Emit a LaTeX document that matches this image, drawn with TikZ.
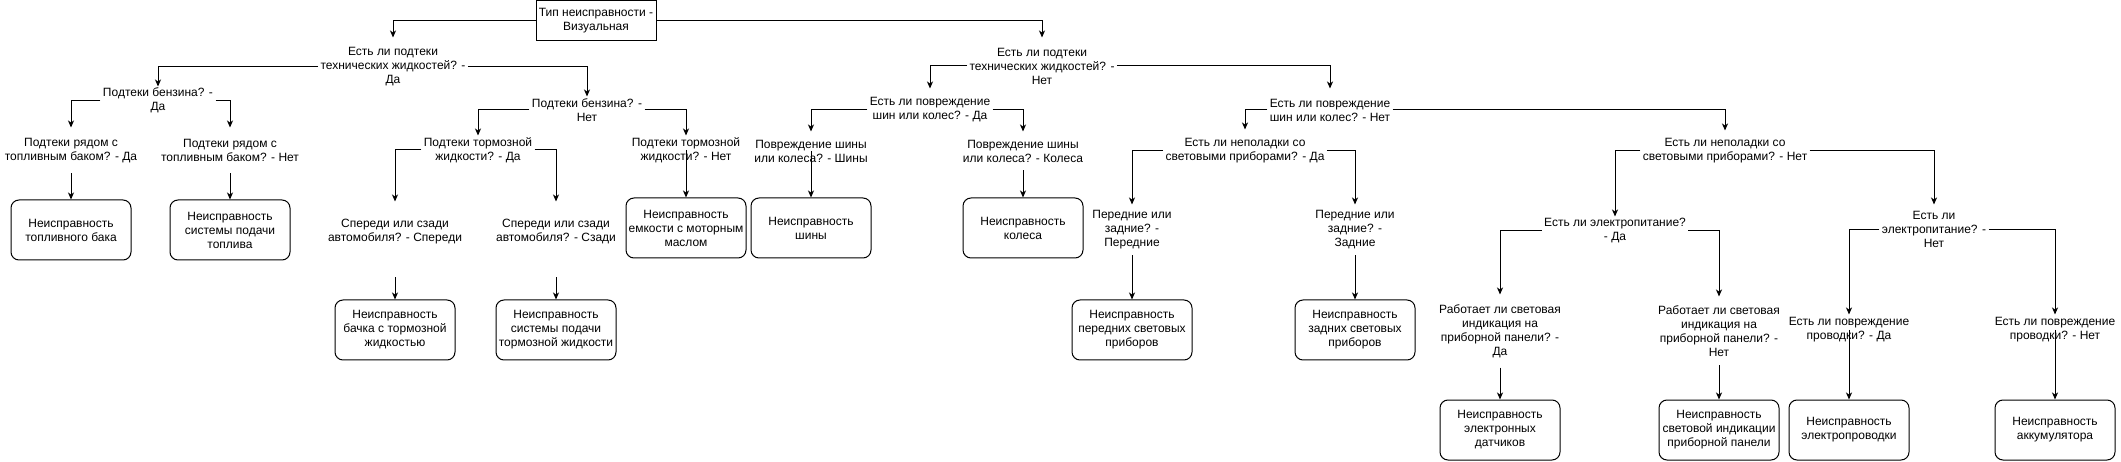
\documentclass[tikz,border=0pt]{standalone}
\usepackage{fontspec}
\setmainfont{Liberation Sans}
\usetikzlibrary{arrows.meta}

\tikzset{
  every node/.style={font=\fontsize{12}{14}\selectfont, align=center},
  question/.style={inner xsep=2pt, inner ysep=0pt},
  fault/.style={draw, rounded corners=8pt, minimum width=120pt, minimum height=60pt, inner sep=1pt},
  rootbox/.style={draw, minimum width=120pt, minimum height=40pt, inner sep=1pt},
  link/.style={-{Stealth[length=7pt,width=6pt,inset=2pt]}},
}

\begin{document}
\begin{tikzpicture}[x=1pt, y=-1pt, line width=1pt]
			\useasboundingbox (0,0) rectangle (2121,462);
			
			% Root
			\node[rootbox] (R) at (596,21) {Тип неисправности -\\Визуальная};
			
			% Questions, left half
			\node[question, minimum height=58pt] (q1) at (393,67) {Есть ли подтеки\\технических жидкостей? -\\Да};
			\node[question, minimum height=27pt] (q2) at (158,100.5) {Подтеки бензина? -\\Да};
			\node[question, minimum height=26pt] (q3) at (587,110) {Подтеки бензина? -\\Нет};
			\node[question, minimum height=45pt] (q4) at (71,150.5) {Подтеки рядом с\\топливным баком? - Да};
			\node[question, minimum height=45pt] (q5) at (230,150.5) {Подтеки рядом с\\топливным баком? - Нет};
			\node[question, minimum height=28pt] (q6) at (478,150) {Подтеки тормозной\\жидкости? - Да};
			\node[question, minimum height=28pt] (q7) at (686,150) {Подтеки тормозной\\жидкости? - Нет};
			\node[question, minimum height=60pt] (q8) at (395,232) {Спереди или сзади\\автомобиля? - Спереди};
			\node[question, minimum height=60pt] (q9) at (556,232) {Спереди или сзади\\автомобиля? - Сзади};
			
			% Questions, right half
			\node[question, minimum height=56pt] (q10) at (1042,66) {Есть ли подтеки\\технических жидкостей? -\\Нет};
			\node[question, minimum height=42pt] (q11) at (930,110) {Есть ли повреждение\\шин или колес? - Да};
			\node[question, minimum height=42pt] (q12) at (1330,110) {Есть ли повреждение\\шин или колес? - Нет};
			\node[question, minimum height=38pt] (q13) at (811,151) {Повреждение шины\\или колеса? - Шины};
			\node[question, minimum height=38pt] (q14) at (1023,151) {Повреждение шины\\или колеса? - Колеса};
			\node[question, minimum height=41pt] (q15) at (1245,150.5) {Есть ли неполадки со\\световыми приборами? - Да};
			\node[question, minimum height=39pt] (q16) at (1725,150.5) {Есть ли неполадки со\\световыми приборами? - Нет};
			\node[question, minimum height=50pt] (q17) at (1132,230) {Передние или\\задние? -\\Передние};
			\node[question, minimum height=50pt] (q18) at (1355,230) {Передние или\\задние? -\\Задние};
			\node[question, minimum height=28pt] (q19) at (1615,231) {Есть ли электропитание?\\- Да};
			\node[question, minimum height=49pt] (q20) at (1934,229.5) {Есть ли\\электропитание? -\\Нет};
			\node[question, minimum height=72pt] (q21) at (1500,331) {Работает ли световая\\индикация на\\приборной панели? -\\Да};
			\node[question, minimum height=68pt] (q22) at (1719,331) {Работает ли световая\\индикация на\\приборной панели? -\\Нет};
			\node[question, minimum height=30pt] (q23) at (1849,330) {Есть ли повреждение\\проводки? - Да};
			\node[question, minimum height=30pt] (q24) at (2055,330) {Есть ли повреждение\\проводки? - Нет};
			
			% Faults (rounded boxes)
			\node[fault] (b1) at (71,230) {Неисправность\\топливного бака};
			\node[fault] (b2) at (230,230) {Неисправность\\системы подачи\\топлива};
			\node[fault] (b3) at (395,330) {Неисправность\\бачка с тормозной\\жидкостью};
			\node[fault] (b4) at (556,330) {Неисправность\\системы подачи\\тормозной жидкости};
			\node[fault] (b5) at (686,228) {Неисправность\\емкости с моторным\\маслом};
			\node[fault] (b6) at (811,228) {Неисправность\\шины};
			\node[fault] (b7) at (1023,228) {Неисправность\\колеса};
			\node[fault] (b8) at (1132,330) {Неисправность\\передних световых\\приборов};
			\node[fault] (b9) at (1355,330) {Неисправность\\задних световых\\приборов};
			\node[fault] (b10) at (1500,430) {Неисправность\\электронных\\датчиков};
			\node[fault] (b11) at (1719,430) {Неисправность\\световой индикации\\приборной панели};
			\node[fault] (b12) at (1849,430) {Неисправность\\электропроводки};
			\node[fault] (b13) at (2055,430) {Неисправность\\аккумулятора};
			
			% Edges from root
			\draw[link] (R.west) -| (q1.north);
			\draw[link] (R.east) -| (q10.north);
			
			% Edges, left half
			\draw[link] (q1.west) -| (q2.north);
			\draw[link] (q1.east) -| (q3.north);
			\draw[link] (q2.west) -| (q4.north);
			\draw[link] (q2.east) -| (q5.north);
			\draw[link] (q3.west) -| (q6.north);
			\draw[link] (q3.east) -| (q7.north);
			\draw[link] (q6.west) -| (q8.north);
			\draw[link] (q6.east) -| (q9.north);
			\draw[link] (q4.south) -- (b1.north);
			\draw[link] (q5.south) -- (b2.north);
			\draw[link] (q7.center) -- (b5.north);
			\draw[link, shorten <=15pt] (q8.south) -- (b3.north);
			\draw[link, shorten <=15pt] (q9.south) -- (b4.north);
			
			% Edges, right half
			\draw[link] (q10.west) -| (q11.north);
			\draw[link] (q10.east) -| (q12.north);
			\draw[link] (q11.west) -| (q13.north);
			\draw[link] (q11.east) -| (q14.north);
			\draw[link] (q12.west) -| (q15.north);
			\draw[link] (q12.east) -| (q16.north);
			\draw[link] (q15.west) -| (q17.north);
			\draw[link] (q15.east) -| (q18.north);
			\draw[link] (q16.west) -| (q19.north);
			\draw[link] (q16.east) -| (q20.north);
			\draw[link] (q19.west) -| (q21.north);
			\draw[link] (q19.east) -| (q22.north);
			\draw[link] (q20.west) -| (q23.north);
			\draw[link] (q20.east) -| (q24.north);
			\draw[link] (q13.center) -- (b6.north);
			\draw[link] (q14.south) -- (b7.north);
			\draw[link] (q17.south) -- (b8.north);
			\draw[link] (q18.south) -- (b9.north);
			\draw[link] (q21.south) -- (b10.north);
			\draw[link] (q22.south) -- (b11.north);
			\draw[link] (q23.center) -- (b12.north);
			\draw[link] (q24.center) -- (b13.north);
		\end{tikzpicture}
\end{document}
